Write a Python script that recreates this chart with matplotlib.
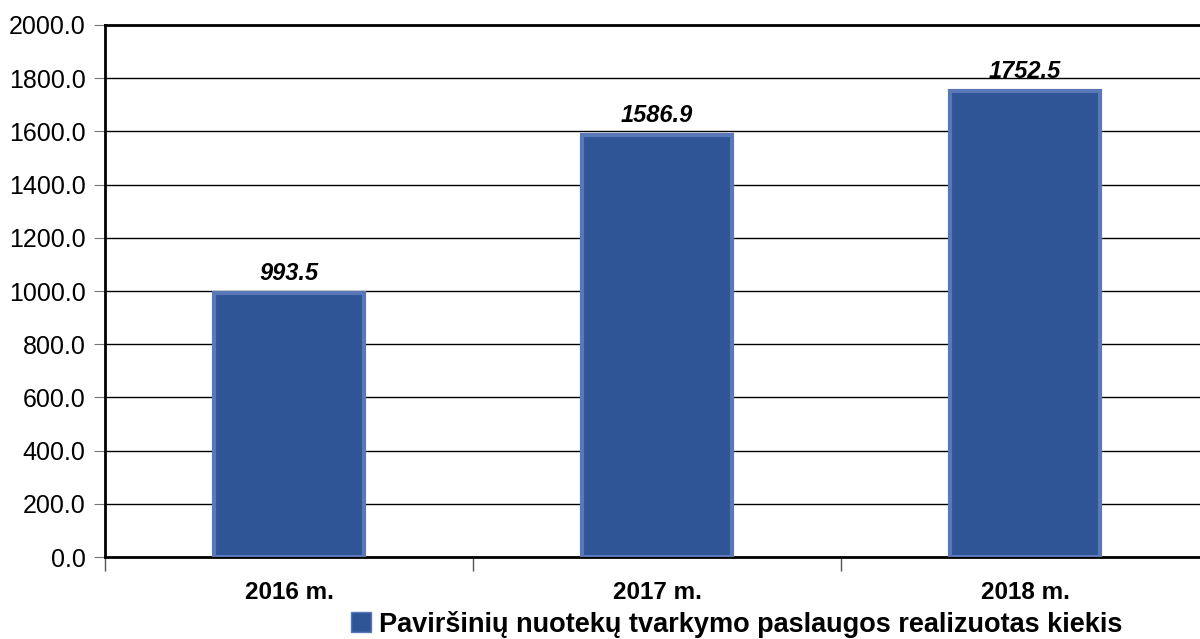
#import libraries
import numpy as np
import matplotlib
matplotlib.use('Agg')
import matplotlib.pyplot as plt
from matplotlib.patches import Patch

#chart data
years = ['2016 m.', '2017 m.', '2018 m.']
values = [993.5, 1586.9, 1752.5]
y_ticks = [0, 200, 400, 600, 800, 1000, 1200, 1400, 1600, 1800, 2000]
legend_label = 'Paviršinių nuotekų tvarkymo paslaugos realizuotas kiekis'

plt.rcParams['font.family'] = ['Liberation Sans', 'DejaVu Sans']

fig = plt.figure(figsize=(12, 6.39), dpi=100)
ax = fig.add_axes([0.0875, 0.1283, 0.92, 0.8326])

x = np.arange(len(years))
bars = ax.bar(x, values, width=0.41, color='#2F5597', edgecolor='#5A77B8',
              linewidth=3, zorder=3)

#data labels
for xi, v in zip(x, values):
    ax.text(xi, v + 30, f'{v:.1f}', ha='center', va='bottom',
            fontsize=17, fontweight='bold', fontstyle='italic', zorder=4)

#axes setup
ax.set_xlim(-0.5, 2.5)
ax.set_ylim(0, 2000)
ax.set_yticks(y_ticks)
ax.set_yticklabels([f'{t:.1f}' for t in y_ticks], fontsize=18)
ax.yaxis.grid(True, color='black', linewidth=1, zorder=0)
ax.set_axisbelow(True)

ax.set_xticks(x)
ax.set_xticklabels(years, fontsize=17.5, fontweight='bold')
ax.tick_params(axis='x', which='major', length=0, pad=17)
ax.set_xticks([-0.5, 0.5, 1.5, 2.5], minor=True)
ax.tick_params(axis='x', which='minor', length=10, color='#555555', width=1)
ax.tick_params(axis='y', length=8, color='#777777', pad=6)

for side in ['left', 'bottom', 'top']:
    ax.spines[side].set_linewidth(2)
    ax.spines[side].set_color('black')
ax.spines['right'].set_visible(False)

#legend
handle = Patch(facecolor='#2F5597', edgecolor='#5A77B8', linewidth=1)
fig.legend([handle], [legend_label], loc='lower left',
           bbox_to_anchor=(0.272, -0.036), frameon=False,
           prop={'size': 19.5, 'weight': 'bold'}, handlelength=0.75,
           handleheight=0.75, handletextpad=0.3)

fig.savefig('out.png', dpi=100)
